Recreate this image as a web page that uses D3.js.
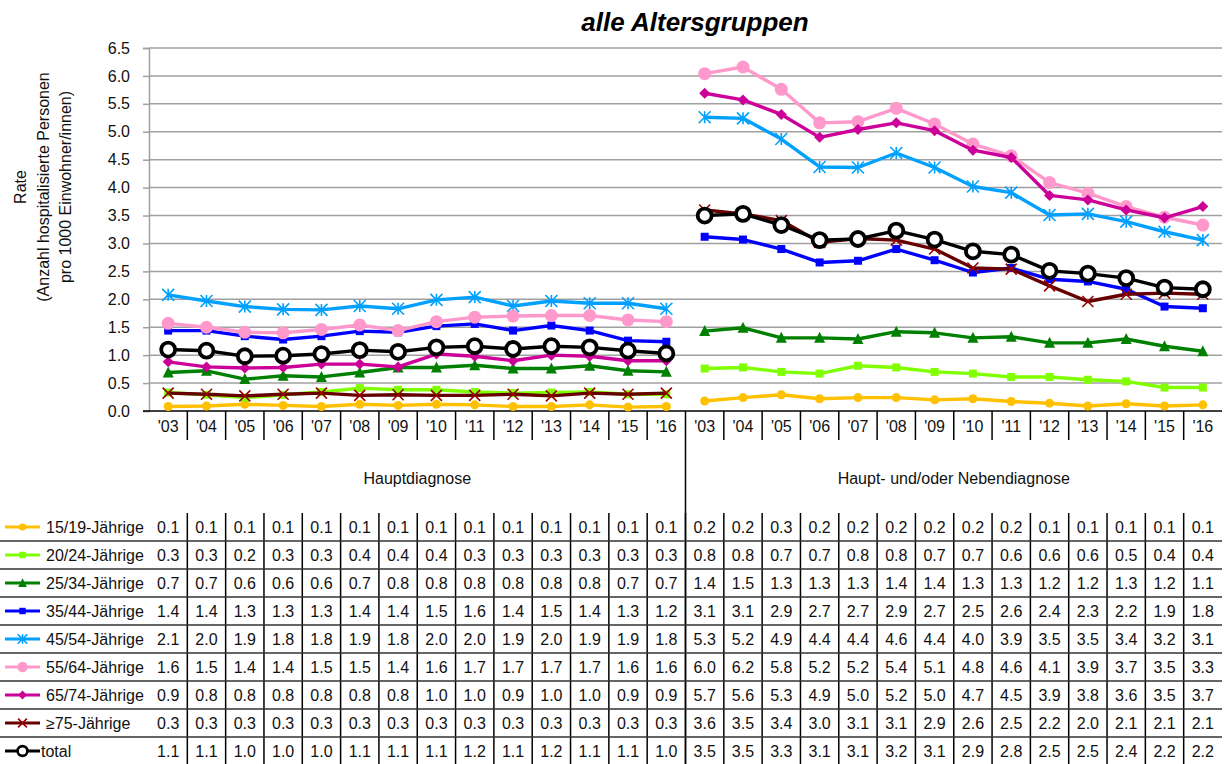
<!DOCTYPE html>
<html>
<head>
<meta charset="utf-8">
<script src="https://cdn.jsdelivr.net/npm/d3@7"></script>
<style>
  body { margin: 0; background: #fff; }
  svg { display: block; font-family: "Liberation Sans", Arial, sans-serif; }
</style>
</head>
<body>
<div id="chart"></div>
<script>
// categories: two diagnosis groups, 14 years each
const groups = ["Hauptdiagnose", "Haupt- und/oder Nebendiagnose"];
const years = ["'03", "'04", "'05", "'06", "'07", "'08", "'09", "'10", "'11", "'12", "'13", "'14", "'15", "'16"];
const yTicks = [0, 0.5, 1, 1.5, 2, 2.5, 3, 3.5, 4, 4.5, 5, 5.5, 6, 6.5];

// rates per 1000, first 14 = Hauptdiagnose, last 14 = Haupt- und/oder Nebendiagnose
const r15_19 = [0.08, 0.09, 0.12, 0.10, 0.08, 0.12, 0.10, 0.12, 0.11, 0.08, 0.08, 0.11, 0.07, 0.08,
                0.18, 0.24, 0.29, 0.22, 0.24, 0.24, 0.20, 0.22, 0.17, 0.14, 0.09, 0.13, 0.09, 0.11];
const r20_24 = [0.33, 0.29, 0.24, 0.29, 0.34, 0.41, 0.38, 0.38, 0.34, 0.32, 0.33, 0.34, 0.30, 0.30,
                0.76, 0.78, 0.70, 0.67, 0.81, 0.78, 0.70, 0.67, 0.61, 0.61, 0.56, 0.53, 0.42, 0.42];
const r25_34 = [0.69, 0.72, 0.57, 0.63, 0.61, 0.69, 0.78, 0.78, 0.82, 0.76, 0.76, 0.81, 0.72, 0.70,
                1.43, 1.49, 1.31, 1.31, 1.29, 1.42, 1.40, 1.31, 1.33, 1.22, 1.22, 1.29, 1.16, 1.07];
const r35_44 = [1.44, 1.44, 1.34, 1.28, 1.34, 1.43, 1.41, 1.52, 1.56, 1.44, 1.53, 1.44, 1.26, 1.24,
                3.12, 3.07, 2.90, 2.66, 2.69, 2.90, 2.70, 2.48, 2.56, 2.36, 2.32, 2.18, 1.87, 1.84];
const r45_54 = [2.08, 1.97, 1.87, 1.82, 1.81, 1.88, 1.83, 1.99, 2.04, 1.88, 1.97, 1.93, 1.93, 1.83,
                5.26, 5.24, 4.87, 4.37, 4.36, 4.62, 4.36, 4.02, 3.91, 3.51, 3.53, 3.39, 3.21, 3.06];
const r55_64 = [1.57, 1.50, 1.41, 1.40, 1.46, 1.54, 1.44, 1.60, 1.68, 1.70, 1.71, 1.71, 1.63, 1.60,
                6.04, 6.16, 5.76, 5.16, 5.18, 5.42, 5.14, 4.78, 4.57, 4.09, 3.90, 3.66, 3.47, 3.33];
const r65_74 = [0.88, 0.79, 0.77, 0.78, 0.84, 0.84, 0.79, 1.02, 0.98, 0.90, 1.00, 0.98, 0.90, 0.90,
                5.69, 5.57, 5.31, 4.90, 5.04, 5.16, 5.02, 4.67, 4.54, 3.86, 3.78, 3.60, 3.46, 3.66];
const r75 = [0.32, 0.30, 0.27, 0.30, 0.32, 0.28, 0.29, 0.28, 0.28, 0.30, 0.27, 0.32, 0.30, 0.32,
             3.60, 3.53, 3.41, 3.02, 3.09, 3.06, 2.90, 2.56, 2.54, 2.24, 1.96, 2.09, 2.11, 2.09];
const rTotal = [1.10, 1.08, 0.98, 0.99, 1.02, 1.09, 1.06, 1.14, 1.16, 1.11, 1.16, 1.14, 1.08, 1.03,
                3.50, 3.53, 3.33, 3.06, 3.08, 3.23, 3.07, 2.86, 2.80, 2.51, 2.46, 2.38, 2.21, 2.18];

const seriesNames = ["15/19-Jährige", "20/24-Jährige", "25/34-Jährige", "35/44-Jährige", "45/54-Jährige",
                     "55/64-Jährige", "65/74-Jährige", "≥75-Jährige", "total"];
const seriesValues = [r15_19, r20_24, r25_34, r35_44, r45_54, r55_64, r65_74, r75, rTotal];

// look of each series (line colour, marker)
const styles = [
  {color: "#FFC000", marker: "circle", size: 4.5},
  {color: "#80FF00", marker: "square", size: 8},
  {color: "#008000", marker: "triangle", size: 11},
  {color: "#0000FF", marker: "square", size: 8},
  {color: "#00A0FF", marker: "star", size: 12},
  {color: "#FF99CC", marker: "circle", size: 6.5},
  {color: "#CC0099", marker: "diamond", size: 11},
  {color: "#660000", marker: "x", size: 11, markerColor: "#990000"},
  {color: "#000000", marker: "ring", size: 7}
];

const W = 1232, H = 764;
const plot = {left: 149, right: 1222, top: 48, bottom: 411};
const table = {top: 513, row: 28};

const keys = [];
groups.forEach((g, gi) => years.forEach(yr => keys.push(gi + yr)));

const x = d3.scaleBand().domain(keys).range([plot.left, plot.right]).padding(0);
const y = d3.scaleLinear().domain([0, 6.5]).range([plot.bottom, plot.top]);
const cx = k => x(k) + x.bandwidth() / 2;

const svg = d3.select("#chart").append("svg").attr("width", W).attr("height", H);

// title
svg.append("text")
   .attr("x", 695).attr("y", 31)
   .attr("text-anchor", "middle")
   .style("font-size", "26px").style("font-weight", "bold").style("font-style", "italic")
   .text("alle Altersgruppen");

// y axis title, three lines rotated
const yTitle = svg.append("text")
   .attr("transform", "translate(0,187) rotate(-90)")
   .attr("text-anchor", "middle")
   .style("font-size", "16px").attr("fill", "#111");
["Rate", "(Anzahl hospitalisierte Personen", "pro 1000 Einwohner/innen)"].forEach((t, i) => {
  yTitle.append("tspan").attr("x", 0).attr("y", 26 + i * 22.5).text(t);
});

// gridlines + y axis
const yAxis = d3.axisLeft(y).tickValues(yTicks).tickFormat(d3.format(".1f")).tickSize(6).tickPadding(13);
const gY = svg.append("g").attr("transform", `translate(${plot.left},0)`).call(yAxis);
gY.select(".domain").attr("stroke", "#a0a0a0").attr("stroke-width", 1.5);
gY.selectAll(".tick line").attr("stroke", "#a0a0a0").attr("stroke-width", 1.5);
gY.selectAll(".tick text").style("font-size", "16px").style("font-family", "Liberation Sans, Arial").attr("fill", "#111");
svg.append("g").selectAll("line").data(yTicks.filter(d => d > 0)).join("line")
   .attr("x1", plot.left).attr("x2", plot.right)
   .attr("y1", d => y(d)).attr("y2", d => y(d))
   .attr("stroke", "#a0a0a0").attr("stroke-width", 1.5);

// x axis with year labels
const xAxis = d3.axisBottom(x).tickSize(0).tickPadding(10).tickFormat(k => k.slice(1));
const gX = svg.append("g").attr("transform", `translate(0,${plot.bottom})`).call(xAxis);
gX.select(".domain").attr("d", `M${plot.left - 6},0H${plot.right}`).attr("stroke", "#000").attr("stroke-width", 1.5);
gX.selectAll(".tick text").style("font-size", "16px").style("font-family", "Liberation Sans, Arial").attr("fill", "#111");

// category separators under the axis and in the table
const bounds = keys.slice(1);
svg.append("g").selectAll("line").data(bounds).join("line")
   .attr("x1", k => x(k)).attr("x2", k => x(k))
   .attr("y1", plot.bottom).attr("y2", k => k === keys[14] ? H : plot.bottom + 29)
   .attr("stroke", "#000").attr("stroke-width", 1.5);
svg.append("g").selectAll("line").data(bounds).join("line")
   .attr("x1", k => x(k)).attr("x2", k => x(k))
   .attr("y1", table.top).attr("y2", H)
   .attr("stroke", "#000").attr("stroke-width", 1.5);

// group labels
groups.forEach((g, gi) => {
  const k0 = keys[gi * 14], k1 = keys[gi * 14 + 13];
  svg.append("text")
     .attr("x", (x(k0) + x(k1) + x.bandwidth()) / 2).attr("y", 484)
     .attr("text-anchor", "middle").style("font-size", "16px").attr("fill", "#111")
     .text(g);
});

// marker drawing
function drawMarker(sel, st, scale) {
  const s = st.size * scale;
  const mc = st.markerColor || st.color;
  if (st.marker === "circle") {
    sel.append("circle").attr("r", s).attr("fill", st.color);
  } else if (st.marker === "ring") {
    sel.append("circle").attr("r", s).attr("fill", "#fff").attr("stroke", "#000").attr("stroke-width", 3.8 * scale);
  } else if (st.marker === "square") {
    sel.append("rect").attr("x", -s / 2).attr("y", -s / 2).attr("width", s).attr("height", s).attr("fill", st.color);
  } else if (st.marker === "triangle") {
    sel.append("path").attr("d", `M0,${-s * 0.55}L${s / 2},${s * 0.45}L${-s / 2},${s * 0.45}Z`).attr("fill", st.color);
  } else if (st.marker === "diamond") {
    sel.append("path").attr("d", `M0,${-s / 2}L${s / 2},0L0,${s / 2}L${-s / 2},0Z`).attr("fill", st.color);
  } else if (st.marker === "star") {
    const h = s / 2;
    sel.append("path").attr("d", `M${-h},${-h}L${h},${h}M${-h},${h}L${h},${-h}M0,${-h}L0,${h}`)
       .attr("stroke", st.color).attr("stroke-width", 1.6).attr("fill", "none");
  } else if (st.marker === "x") {
    const h = s / 2;
    sel.append("path").attr("d", `M${-h},${-h}L${h},${h}M${-h},${h}L${h},${-h}`)
       .attr("stroke", mc).attr("stroke-width", 1.6).attr("fill", "none");
  }
}

const line = d3.line().x(d => cx(d.k)).y(d => y(d.v));

seriesValues.forEach((vals, si) => {
  const st = styles[si];
  const pts = vals.map((v, i) => ({k: keys[i], v: v}));
  const g = svg.append("g");
  // each group gets its own line, no link between the two panels
  [pts.slice(0, 14), pts.slice(14)].forEach(seg => {
    g.append("path").datum(seg).attr("d", line)
     .attr("fill", "none").attr("stroke", st.color).attr("stroke-width", 3.4)
     .attr("stroke-linejoin", "round");
  });
  pts.forEach(p => {
    drawMarker(g.append("g").attr("transform", `translate(${cx(p.k)},${y(p.v)})`), st, 1);
  });
});

// data table with legend keys
const fmt = d3.format(".1f");
seriesValues.forEach((vals, si) => {
  const st = styles[si];
  const yc = table.top + table.row * si + table.row / 2;
  if (si > 0) {
    svg.append("line").attr("x1", 0).attr("x2", plot.right)
       .attr("y1", table.top + table.row * si).attr("y2", table.top + table.row * si)
       .attr("stroke", "#333").attr("stroke-width", 1.5);
  }
  const lg = svg.append("g");
  lg.append("line").attr("x1", 5).attr("x2", 40).attr("y1", yc).attr("y2", yc)
    .attr("stroke", st.color).attr("stroke-width", 3);
  drawMarker(lg.append("g").attr("transform", `translate(22.5,${yc})`), st, si === 8 ? 0.7 : 0.8);
  lg.append("text").attr("x", si === 8 ? 41 : 46).attr("y", yc + 6)
    .style("font-size", "16px").attr("fill", "#111").text(seriesNames[si]);

  svg.append("g").selectAll("text").data(vals).join("text")
     .attr("x", (v, i) => cx(keys[i])).attr("y", yc + 6)
     .attr("text-anchor", "middle").style("font-size", "16px").attr("fill", "#111")
     .text(v => fmt(v));
});
</script>
</body>
</html>
